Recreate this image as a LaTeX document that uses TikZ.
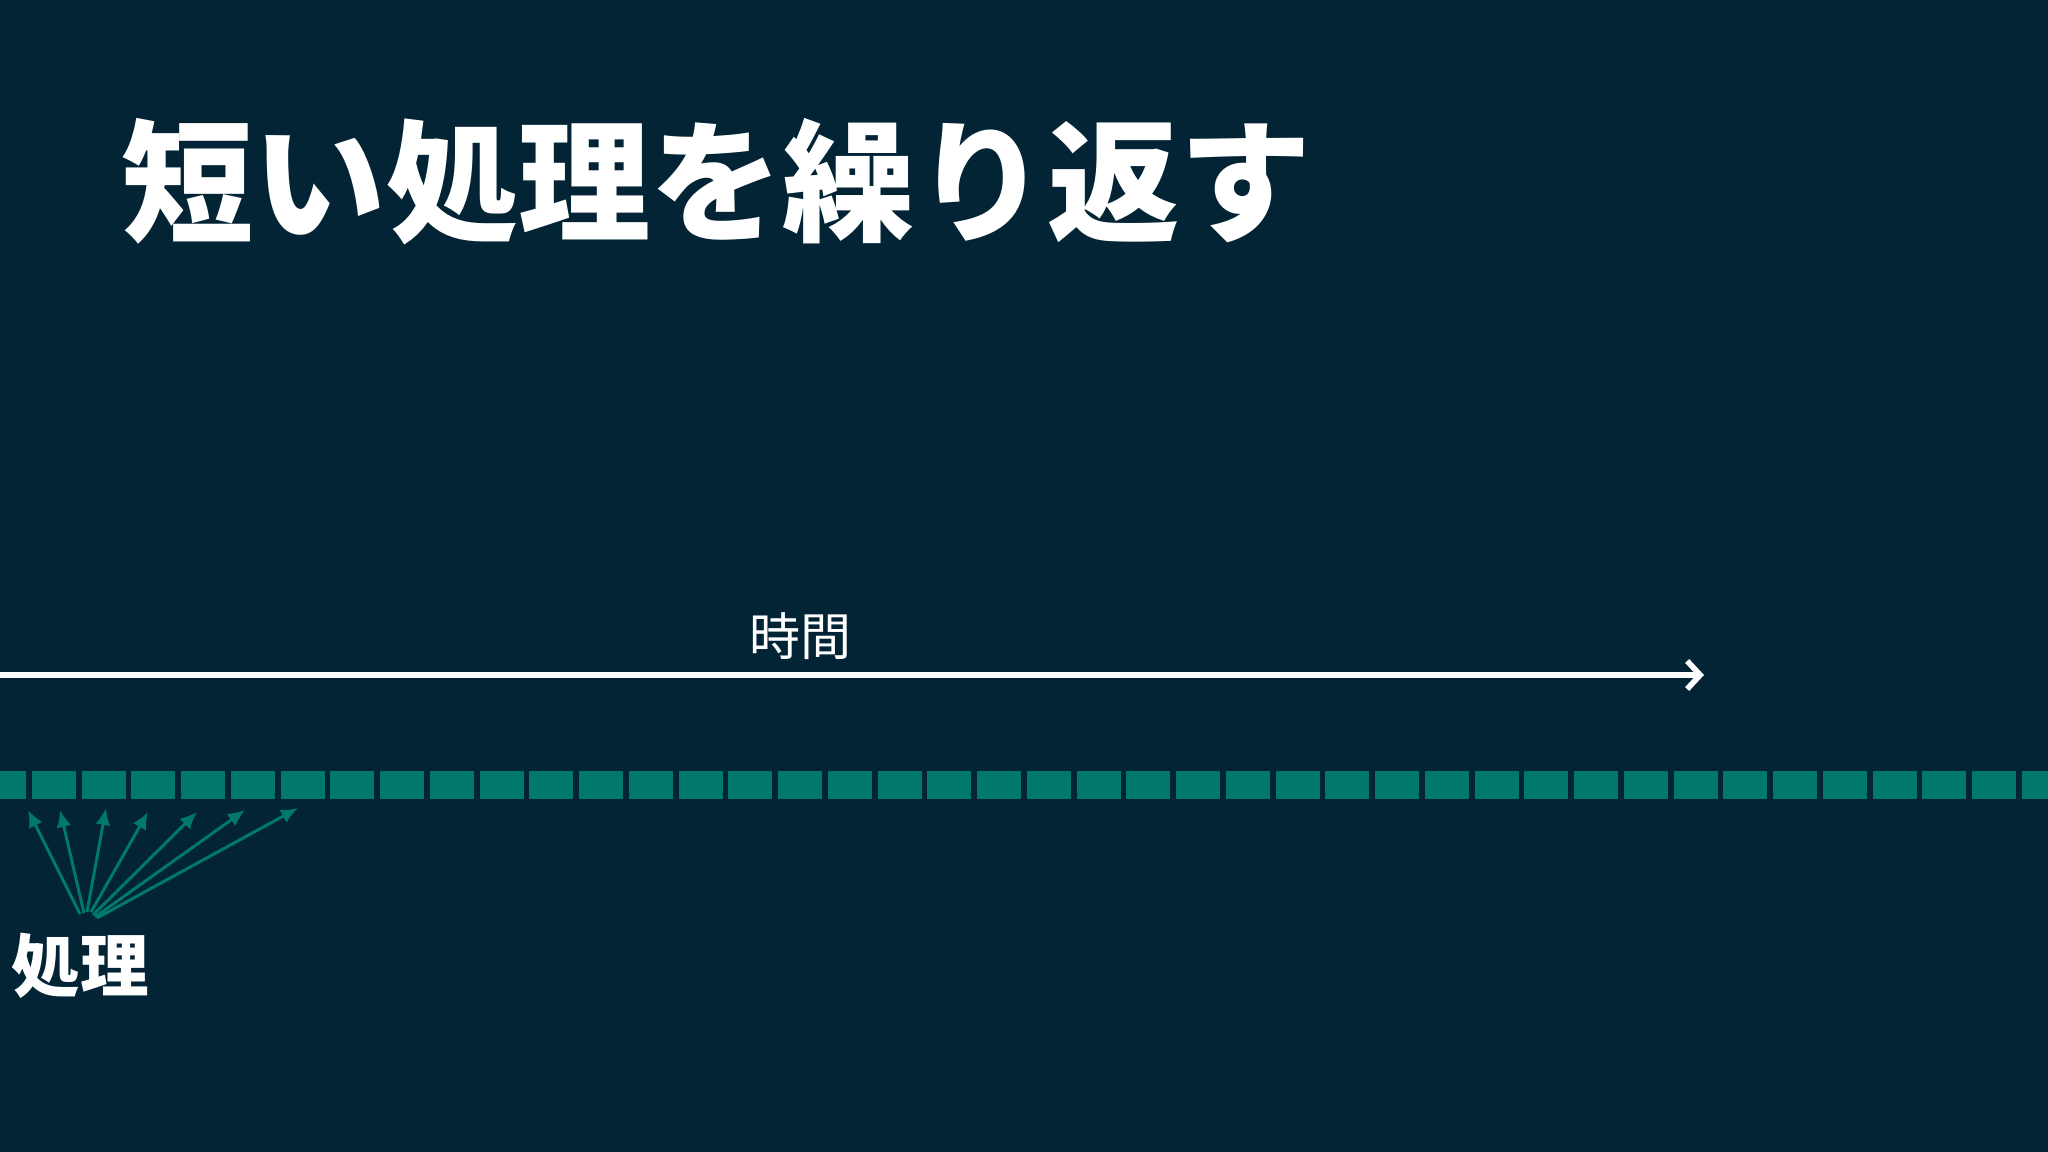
\documentclass[tikz,border=0pt]{standalone}
\usepackage{fontspec}
\newfontfamily\jpfont{Noto Sans CJK JP}
\usetikzlibrary{arrows.meta}
\definecolor{bgnavy}{RGB}{2,36,52}
\definecolor{slotteal}{RGB}{0,121,107}

\begin{document}
\begin{tikzpicture}[x=0.01cm,y=-0.01cm,
	slot/.style={fill=slotteal, draw=none, minimum width=0.44cm, minimum height=0.28cm, inner sep=0pt, outer sep=0pt, anchor=north west},
	call/.style={slotteal, line width=0.85pt, -{Latex[length=0.17cm,width=0.15cm]}},
	axis/.style={white, line width=1.6pt, -{Straight Barb[length=0.13cm,width=0.28cm]}}]
			
			% Background
			\useasboundingbox (0,0) rectangle (2048,1152);
			\fill[bgnavy] (0,0) rectangle (2048,1152);
			\clip (0,0) rectangle (2048,1152);
			
			% Title
			\node[anchor=west, inner sep=0pt, text=white, font=\jpfont\bfseries\fontsize{37.6}{44}\selectfont] (title) at (121,182) {短い処理を繰り返す};
			
			% Time axis
			\node[text=white, inner sep=0pt, font=\jpfont\fontsize{14.5}{17}\selectfont] (timelbl) at (800,636) {時間};
			\coordinate (axstart) at (0,675);
			\coordinate (axend) at (1704,675);
			\draw[axis] (axstart) -- (axend);
			
			% Row of short tasks
			\foreach \i in {0,...,41}
				\node[slot] (s\i) at ({-18+49.75*\i},771) {};
			
			% Task label
			\node[text=white, inner sep=0pt, font=\jpfont\bfseries\fontsize{19.5}{23}\selectfont] (proc) at (80,966) {処理};
			
			% Arrows from label to tasks
			\foreach \tx/\ty/\hx/\hy [count=\k] in {80/914/28/810, 84/913/60/810, 87/912/106/808, 91/912/148/812, 93/915/197/812, 95/917/245/810, 97/918/298/808} {
				\coordinate (t\k) at (\tx,\ty);
				\coordinate (h\k) at (\hx,\hy);
				\draw[call] (t\k) -- (h\k);
			}
		\end{tikzpicture}
\end{document}
